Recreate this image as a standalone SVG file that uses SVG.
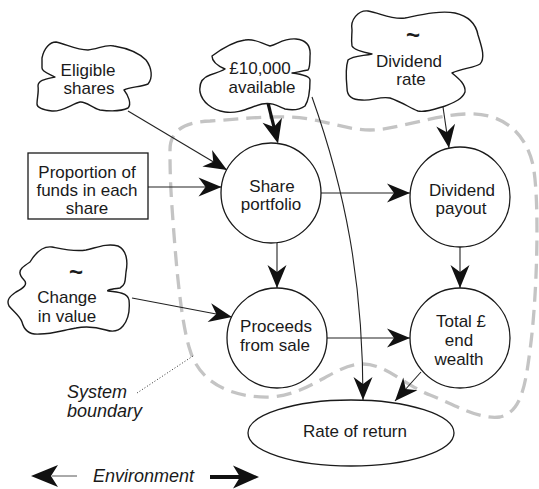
<svg xmlns="http://www.w3.org/2000/svg" width="539" height="489" viewBox="0 0 539 489">
  <style>
    .txt { font-family: "Liberation Sans", Arial, sans-serif; font-size: 17px; fill: #1a1a1a; text-anchor: middle; }
    .ital { font-family: "Liberation Sans", Arial, sans-serif; font-size: 18px; font-style: italic; fill: #1a1a1a; }
    .tilde { font-family: "Liberation Sans", Arial, sans-serif; font-size: 24px; font-weight: bold; fill: #1a1a1a; text-anchor: middle; }
    .shape { fill: #ffffff; stroke: #1a1a1a; stroke-width: 1.3; }
    .cloud { fill: #ffffff; stroke: #1a1a1a; stroke-width: 1.4; stroke-linejoin: round; }
    .link { fill: none; stroke: #222222; stroke-width: 1.1; marker-end: url(#head); }
    .thick { fill: none; stroke: #111111; stroke-width: 3.2; marker-end: url(#headThick); }
    .boundary { fill: none; stroke: #c4c4c4; stroke-width: 3.3; stroke-dasharray: 15 8; }
  </style>
  <defs>
    <marker id="head" markerUnits="userSpaceOnUse" viewBox="-26 -11 28 22" markerWidth="28" markerHeight="22" refX="0" refY="0" orient="auto">
      <path d="M0,0 L-23,-9.5 L-16,0 L-23,9.5 Z" fill="#111111"/>
    </marker>
    <marker id="headThick" markerUnits="userSpaceOnUse" viewBox="-26 -12 36 24" markerWidth="36" markerHeight="24" refX="-6" refY="0" orient="auto">
      <path d="M0,0 L-24,-10 L-17,0 L-24,10 Z" fill="#111111"/>
    </marker>
  </defs>

  <!-- system boundary -->
  <path class="boundary" d="M170,150 C170,130 185,122 210,121 C240,119 265,116 290,117 C320,118 345,130 370,130 C395,130 430,116 465,114 C500,112 525,130 533,165 C540,200 537,300 530,350 C525,390 520,412 500,417 C480,420 455,405 430,395 C405,385 385,364 363,364 C335,364 310,395 270,397 C235,398 200,385 190,350 C180,320 175,250 172,207 C170,180 170,160 170,150 Z"/>

  <!-- connectors -->
  <g id="connectors">
    <line class="link" x1="128" y1="111" x2="227" y2="170"/>
    <line class="link" x1="148" y1="187" x2="221.5" y2="187"/>
    <line class="thick" x1="268" y1="103" x2="276.6" y2="137.7"/>
    <path class="link" d="M312,97 C345,190 363,280 363,400"/>
    <line class="link" x1="443" y1="107" x2="449" y2="148"/>
    <line class="link" x1="321" y1="193" x2="410" y2="193"/>
    <line class="link" x1="277" y1="243" x2="277" y2="288"/>
    <line class="link" x1="132" y1="298" x2="232" y2="317"/>
    <line class="link" x1="327" y1="338" x2="410" y2="338"/>
    <line class="link" x1="460" y1="247" x2="460" y2="288"/>
    <line class="link" x1="421" y1="372" x2="395" y2="401"/>
  </g>

  <!-- inputs -->
  <g id="eligible-shares">
    <path class="cloud" d="M42,58 C44,48 50,42 56,42 C66,44 76,50 88,50 C98,49 106,44 114,46 C126,48 138,52 146,60 C152,68 153,78 148,84 C140,87 130,87 124,90 C128,95 132,104 128,108 C120,112 108,111 100,110 C92,108 86,101 80,102 C72,104 62,112 52,111 C44,110 37,108 37,104 C37,98 39,92 38,86 C38,80 46,79 55,77 C50,74 42,72 42,68 C42,64 42,61 42,58 Z"/>
    <text class="txt" x="88" y="76">Eligible</text>
    <text class="txt" x="89" y="94">shares</text>
  </g>

  <g id="funds-available">
    <path class="cloud" d="M212,56 C220,50 232,42 245,40 C255,38 262,44 270,46 C278,44 284,38 296,39 C306,40 311,46 310,56 C310,62 310,68 308,70 C300,71 296,73 292,73 C300,74 310,76 310,80 C310,90 309,100 305,106 C298,111 290,110 285,109 C278,106 272,102 262,104 C250,107 240,114 225,112 C212,110 202,102 200,92 C199,84 201,78 210,75 C216,73 222,71 225,69 C218,66 212,62 212,56 Z"/>
    <text class="txt" x="260" y="74">£10,000</text>
    <text class="txt" x="262" y="93">available</text>
  </g>

  <g id="dividend-rate">
    <path class="cloud" d="M352,30 C350,20 358,10 368,11 C380,13 392,20 405,18 C420,15 440,10 455,13 C468,16 476,24 478,35 C481,45 486,58 480,64 C474,68 462,68 452,73 C458,78 466,84 465,92 C462,100 452,103 445,106 C435,109 425,113 418,111 C410,108 402,102 390,98 C380,96 372,101 362,100 C352,100 347,96 347,88 C346,78 346,66 348,60 C352,56 362,56 372,54 C362,52 354,50 352,46 C351,40 352,35 352,30 Z"/>
    <text class="tilde" x="413" y="43">~</text>
    <text class="txt" x="409" y="67">Dividend</text>
    <text class="txt" x="411" y="85">rate</text>
  </g>

  <g id="proportion">
    <rect class="shape" x="28" y="153" width="120" height="66"/>
    <text class="txt" x="87" y="178">Proportion of</text>
    <text class="txt" x="87" y="196">funds in each</text>
    <text class="txt" x="87" y="214">share</text>
  </g>

  <g id="change-in-value">
    <path class="cloud" d="M30,262 C36,252 44,246 52,247 C62,249 74,252 86,250 C96,248 106,243 118,246 C127,250 128,262 126,272 C125,280 126,285 120,288 C112,289 106,290 108,291 C118,292 128,293 129,300 C130,310 128,320 123,326 C118,332 112,332 106,330 C96,327 86,326 76,328 C64,330 52,334 40,334 C30,335 24,330 22,322 C20,316 14,312 9,306 C6,300 10,296 16,292 C24,288 28,284 24,280 C20,276 18,272 22,268 C24,266 27,264 30,262 Z"/>
    <text class="tilde" x="76" y="280">~</text>
    <text class="txt" x="67" y="303">Change</text>
    <text class="txt" x="67" y="322">in value</text>
  </g>

  <!-- model variables -->
  <g id="share-portfolio">
    <circle class="shape" cx="271" cy="193" r="50"/>
    <text class="txt" x="272" y="192">Share</text>
    <text class="txt" x="271" y="210">portfolio</text>
  </g>

  <g id="dividend-payout">
    <circle class="shape" cx="460" cy="197" r="50"/>
    <text class="txt" x="462" y="196">Dividend</text>
    <text class="txt" x="461" y="214">payout</text>
  </g>

  <g id="proceeds">
    <circle class="shape" cx="277" cy="338" r="50"/>
    <text class="txt" x="276" y="332">Proceeds</text>
    <text class="txt" x="275" y="351">from sale</text>
  </g>

  <g id="total-wealth">
    <circle class="shape" cx="460" cy="338" r="50"/>
    <text class="txt" x="461" y="327">Total £</text>
    <text class="txt" x="459" y="346">end</text>
    <text class="txt" x="459" y="365">wealth</text>
  </g>

  <g id="rate-of-return">
    <ellipse class="shape" cx="351" cy="433" rx="103" ry="33"/>
    <text class="txt" x="355" y="437">Rate of return</text>
  </g>

  <!-- annotations -->
  <g id="system-boundary-label">
    <line x1="137" y1="393" x2="193" y2="356" stroke="#333333" stroke-width="1" stroke-dasharray="1 2"/>
    <text class="ital" x="67" y="398">System</text>
    <text class="ital" x="67" y="417">boundary</text>
  </g>

  <g id="environment-label">
    <line x1="52" y1="476" x2="77" y2="476" stroke="#555555" stroke-width="1"/>
    <path d="M31,476 L58,465 L51,476 L58,487 Z" fill="#111111"/>
    <line x1="210" y1="477" x2="240" y2="477" stroke="#111111" stroke-width="4"/>
    <path d="M259,477 L233,465.5 L240,477 L233,488.5 Z" fill="#111111"/>
    <text class="ital" x="93" y="482">Environment</text>
  </g>
</svg>
